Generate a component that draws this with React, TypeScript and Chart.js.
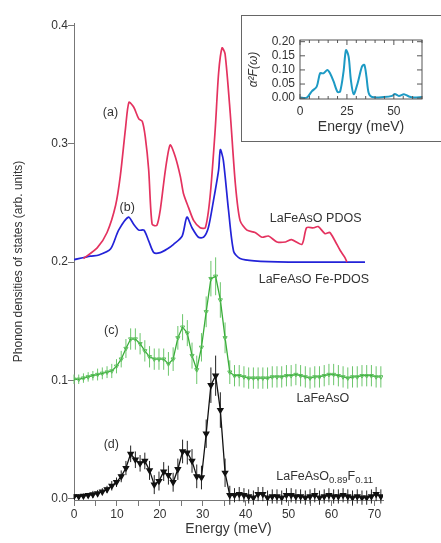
import { useEffect, useRef } from 'react';
import { Chart, registerables } from 'chart.js';

Chart.register(...registerables);

const FONT = '"Liberation Sans", Arial, Helvetica, sans-serif';

// (a) LaFeAsO PDOS, calculated
const PDOS_E = [2.2, 5.4, 7.7, 9.7, 10.8, 12.0, 12.8, 13.9, 15.1, 15.9, 16.6, 17.4, 18.2, 19.3, 20.1, 21.3, 22.4, 23.6, 24.8, 25.5, 26.7, 27.9, 29.4, 30.6, 31.7, 32.9, 33.7, 34.5, 35.2, 36.4, 37.6, 38.7, 40.3, 42.2, 43.8, 45.3, 47.3, 49.3, 50.7, 53.1, 54.2, 55.8, 56.9, 58.5, 59.6, 60.8, 62.0, 63.1, 63.6];
const PDOS_V = [0.203, 0.212, 0.225, 0.248, 0.273, 0.313, 0.335, 0.331, 0.321, 0.319, 0.306, 0.278, 0.232, 0.231, 0.244, 0.278, 0.299, 0.289, 0.272, 0.258, 0.246, 0.235, 0.229, 0.229, 0.255, 0.312, 0.36, 0.381, 0.376, 0.326, 0.266, 0.235, 0.227, 0.225, 0.221, 0.222, 0.217, 0.217, 0.219, 0.215, 0.229, 0.229, 0.23, 0.224, 0.225, 0.218, 0.21, 0.204, 0.2];

// (b) LaFeAsO Fe-PDOS, calculated
const FE_PDOS_E = [0, 3.8, 5.8, 8.5, 10.4, 12.7, 13.9, 15.1, 16.3, 17.4, 18.6, 20.1, 21.7, 23.2, 25.2, 26.3, 27.5, 29.0, 30.2, 31.3, 32.5, 33.7, 34.1, 34.8, 36.0, 37.2, 38.7, 42.0, 50.0, 60.0, 67.8];
const FE_PDOS_V = [0.202, 0.205, 0.206, 0.211, 0.227, 0.238, 0.232, 0.227, 0.227, 0.218, 0.208, 0.208, 0.211, 0.215, 0.222, 0.238, 0.229, 0.221, 0.221, 0.229, 0.252, 0.278, 0.295, 0.286, 0.244, 0.209, 0.203, 0.201, 0.2, 0.2, 0.2];

// measured spectra share one energy grid
const MEAS_E = [0, 1.1, 2.2, 3.3, 4.4, 5.5, 6.6, 7.7, 8.8, 9.9, 11, 12.1, 13.2, 14.3, 15.4, 16.5, 17.6, 18.7, 19.8, 20.9, 22, 23.1, 24.2, 25.3, 26.4, 27.5, 28.6, 29.7, 30.8, 31.9, 33, 34.1, 35.2, 36.3, 37.4, 38.5, 39.6, 40.7, 41.8, 42.9, 44, 45.1, 46.2, 47.3, 48.4, 49.5, 50.6, 51.7, 52.8, 53.9, 55, 56.1, 57.2, 58.3, 59.4, 60.5, 61.6, 62.7, 63.8, 64.9, 66, 67.1, 68.2, 69.3, 70.4, 71.5];

// (c) LaFeAsO
const LAFEASO_V = [0.101, 0.101, 0.102, 0.103, 0.104, 0.105, 0.106, 0.107, 0.108, 0.112, 0.118, 0.127, 0.135, 0.135, 0.131, 0.125, 0.12, 0.118, 0.118, 0.118, 0.114, 0.118, 0.136, 0.145, 0.14, 0.121, 0.109, 0.128, 0.158, 0.186, 0.188, 0.168, 0.136, 0.107, 0.104, 0.104, 0.103, 0.102, 0.102, 0.102, 0.102, 0.102, 0.103, 0.103, 0.103, 0.104, 0.104, 0.105, 0.104, 0.103, 0.102, 0.103, 0.103, 0.104, 0.105, 0.105, 0.104, 0.103, 0.102, 0.103, 0.103, 0.104, 0.104, 0.104, 0.103, 0.103];
const LAFEASO_ERR = [0.004, 0.004, 0.004, 0.004, 0.004, 0.005, 0.005, 0.005, 0.006, 0.006, 0.007, 0.008, 0.009, 0.009, 0.009, 0.009, 0.009, 0.009, 0.009, 0.009, 0.01, 0.01, 0.01, 0.011, 0.011, 0.011, 0.012, 0.012, 0.013, 0.015, 0.016, 0.015, 0.013, 0.01, 0.009, 0.009, 0.009, 0.009, 0.009, 0.009, 0.009, 0.009, 0.009, 0.009, 0.009, 0.009, 0.009, 0.009, 0.009, 0.009, 0.009, 0.009, 0.009, 0.009, 0.009, 0.009, 0.009, 0.009, 0.009, 0.009, 0.009, 0.009, 0.009, 0.009, 0.009, 0.009];

// (d) LaFeAsO0.89F0.11
const LAFEASOF_V = [0.002, 0.002, 0.0025, 0.003, 0.0037, 0.0045, 0.006, 0.008, 0.011, 0.014, 0.019, 0.026, 0.038, 0.033, 0.03, 0.032, 0.024, 0.012, 0.015, 0.023, 0.02, 0.014, 0.025, 0.04, 0.039, 0.032, 0.019, 0.018, 0.055, 0.096, 0.104, 0.075, 0.022, 0.003, 0.003, 0.004, 0.003, 0.002, 0.001, 0.004, 0.004, 0.001, 0.002, 0.002, 0.001, 0.003, 0.003, 0.002, 0.002, 0.001, 0.002, 0.003, 0.001, 0.002, 0.003, 0.002, 0.002, 0.003, 0.002, 0.001, 0.002, 0.001, 0.001, 0.002, 0.004, 0.002];
const LAFEASOF_ERR = [0.002, 0.002, 0.002, 0.002, 0.003, 0.003, 0.003, 0.003, 0.004, 0.004, 0.005, 0.006, 0.007, 0.007, 0.007, 0.007, 0.008, 0.008, 0.008, 0.008, 0.008, 0.008, 0.009, 0.01, 0.01, 0.01, 0.01, 0.01, 0.012, 0.015, 0.017, 0.015, 0.012, 0.008, 0.006, 0.006, 0.006, 0.006, 0.006, 0.006, 0.006, 0.006, 0.006, 0.006, 0.006, 0.006, 0.006, 0.006, 0.006, 0.006, 0.006, 0.006, 0.006, 0.006, 0.006, 0.006, 0.006, 0.006, 0.006, 0.006, 0.006, 0.006, 0.006, 0.006, 0.006, 0.006];

// inset: Eliashberg function
const ALPHA_E = [0, 3.6, 6.25, 8.9, 10.7, 12.5, 14.6, 16.0, 17.9, 20.0, 21.4, 23.2, 24.5, 25.9, 27.1, 28.6, 30.7, 33.0, 34.3, 35.4, 36.6, 38.4, 44.6, 49.1, 50.5, 52.7, 55.4, 58.0, 60.7, 65.0];
const ALPHA_V = [0.002, 0.002, 0.024, 0.041, 0.088, 0.088, 0.1, 0.088, 0.059, 0.022, 0.024, 0.094, 0.17, 0.147, 0.065, 0.014, 0.053, 0.112, 0.118, 0.076, 0.018, 0.004, 0.004, 0.008, 0.015, 0.008, 0.014, 0.006, 0.002, 0.004];

// curve labels, anchored in data coordinates
const CURVE_LABELS = [
  { e: 8.5, v: 0.326, parts: [{ t: '(a)' }] },
  { e: 12.4, v: 0.2457, parts: [{ t: '(b)' }] },
  { e: 56.3, v: 0.237, parts: [{ t: 'LaFeAsO PDOS' }] },
  { e: 55.9, v: 0.185, parts: [{ t: 'LaFeAsO Fe-PDOS' }] },
  { e: 8.7, v: 0.142, parts: [{ t: '(c)' }] },
  { e: 58.0, v: 0.085, parts: [{ t: 'LaFeAsO' }] },
  { e: 8.7, v: 0.046, parts: [{ t: '(d)' }] },
  { e: 58.4, v: 0.019, parts: [{ t: 'LaFeAsO' }, { t: '0.89', sub: true }, { t: 'F' }, { t: '0.11', sub: true }] },
];

const toPoints = (xs: number[], ys: number[]) => xs.map((x, i) => ({ x, y: ys[i] }));

const errorBarPlugin = {
  id: 'errorBars',
  beforeDatasetsDraw(chart: any) {
    const { ctx, scales: { x, y } } = chart;
    chart.data.datasets.forEach((ds: any) => {
      if (!ds.errors) return;
      ctx.save();
      ctx.strokeStyle = ds.errorColor;
      ctx.lineWidth = 1;
      ctx.beginPath();
      ds.data.forEach((pt: any, i: number) => {
        const err = ds.errors[i] ?? 0;
        const px = x.getPixelForValue(pt.x);
        ctx.moveTo(px, y.getPixelForValue(pt.y - err));
        ctx.lineTo(px, y.getPixelForValue(pt.y + err));
      });
      ctx.stroke();
      ctx.restore();
    });
  },
};

const curveLabelPlugin = {
  id: 'curveLabels',
  afterDatasetsDraw(chart: any) {
    const { ctx, scales: { x, y } } = chart;
    const main = `12.5px ${FONT}`;
    const sub = `9.5px ${FONT}`;
    ctx.save();
    ctx.fillStyle = '#333';
    ctx.textBaseline = 'middle';
    ctx.textAlign = 'left';
    CURVE_LABELS.forEach((lab) => {
      const widths = lab.parts.map((p: any) => {
        ctx.font = p.sub ? sub : main;
        return ctx.measureText(p.t).width;
      });
      const total = widths.reduce((a, b) => a + b, 0);
      let cx = x.getPixelForValue(lab.e) - total / 2;
      const cy = y.getPixelForValue(lab.v);
      lab.parts.forEach((p: any, i: number) => {
        ctx.font = p.sub ? sub : main;
        ctx.fillText(p.t, cx, p.sub ? cy + 4 : cy);
        cx += widths[i];
      });
    });
    ctx.restore();
  },
};

const insetFramePlugin = {
  id: 'insetFrame',
  afterDraw(chart: any) {
    const { ctx, chartArea: a, scales: { x, y } } = chart;
    ctx.save();
    ctx.strokeStyle = '#555';
    ctx.lineWidth = 1;
    ctx.strokeRect(a.left, a.top, a.right - a.left, a.bottom - a.top);
    ctx.beginPath();
    x.ticks.forEach((t: any) => {
      const px = x.getPixelForValue(t.value);
      const len = t.value % 25 === 0 ? 5 : 3;
      ctx.moveTo(px, a.top);
      ctx.lineTo(px, a.top + len);
      ctx.moveTo(px, a.bottom);
      ctx.lineTo(px, a.bottom - len);
    });
    y.ticks.forEach((t: any) => {
      const py = y.getPixelForValue(t.value);
      ctx.moveTo(a.left, py);
      ctx.lineTo(a.left + 5, py);
      ctx.moveTo(a.right, py);
      ctx.lineTo(a.right - 5, py);
    });
    ctx.stroke();
    ctx.restore();
  },
};

function MainChart() {
  const ref = useRef<HTMLCanvasElement>(null);

  useEffect(() => {
    if (!ref.current) return;
    const chart = new Chart(ref.current, {
      type: 'line',
      data: {
        datasets: [
          {
            label: 'LaFeAsO PDOS',
            data: toPoints(PDOS_E, PDOS_V),
            borderColor: '#e4325f',
            borderWidth: 1.7,
            pointRadius: 0,
            tension: 0.25,
          },
          {
            label: 'LaFeAsO Fe-PDOS',
            data: toPoints(FE_PDOS_E, FE_PDOS_V),
            borderColor: '#2323d8',
            borderWidth: 1.7,
            pointRadius: 0,
            tension: 0.25,
          },
          {
            label: 'LaFeAsO',
            data: toPoints(MEAS_E, LAFEASO_V),
            borderColor: '#3aad3a',
            borderWidth: 1.3,
            pointRadius: 2.4,
            pointStyle: 'triangle',
            rotation: 180,
            pointBorderColor: '#5cbf5c',
            pointBackgroundColor: 'rgba(255,255,255,0)',
            pointBorderWidth: 1,
            tension: 0,
            errors: LAFEASO_ERR,
            errorColor: '#6cc66c',
          } as any,
          {
            label: 'LaFeAsO0.89F0.11',
            data: toPoints(MEAS_E, LAFEASOF_V),
            borderColor: '#111',
            borderWidth: 1.3,
            pointRadius: 3,
            pointStyle: 'triangle',
            rotation: 180,
            pointBorderColor: '#111',
            pointBackgroundColor: '#111',
            tension: 0,
            errors: LAFEASOF_ERR,
            errorColor: '#222',
          } as any,
        ],
      },
      options: {
        responsive: false,
        animation: false,
        layout: { padding: { left: 0, top: 23, right: 58, bottom: 0 } },
        plugins: { legend: { display: false }, tooltip: { enabled: false } },
        scales: {
          x: {
            type: 'linear',
            min: 0,
            max: 72,
            afterFit: (s: any) => { s.height = 43; },
            border: { display: true, color: '#777', width: 1 },
            grid: { display: true, drawOnChartArea: false, drawTicks: true, tickLength: 6, color: '#777' },
            ticks: {
              stepSize: 5,
              autoSkip: false,
              includeBounds: false,
              maxRotation: 0,
              padding: 1,
              color: '#333',
              font: { family: FONT, size: 12 },
              callback: (v: any) => (Number(v) % 10 === 0 ? String(v) : ''),
            },
            title: {
              display: true,
              text: 'Energy (meV)',
              color: '#333',
              font: { family: FONT, size: 14 },
              padding: { top: 0, bottom: 5 },
            },
          },
          y: {
            type: 'linear',
            min: -0.001,
            max: 0.402,
            afterFit: (s: any) => { s.width = 74; },
            border: { display: true, color: '#777', width: 1 },
            grid: { display: true, drawOnChartArea: false, drawTicks: true, tickLength: 6, color: '#777' },
            ticks: {
              stepSize: 0.1,
              autoSkip: false,
              includeBounds: false,
              padding: 0,
              color: '#333',
              font: { family: FONT, size: 12 },
              callback: (v: any) => Number(v).toFixed(1),
            },
            title: {
              display: true,
              text: 'Phonon densities of states (arb. units)',
              color: '#333',
              font: { family: FONT, size: 12 },
              padding: { top: 11, bottom: 0 },
            },
          },
        },
      },
      plugins: [errorBarPlugin, curveLabelPlugin],
    });
    return () => chart.destroy();
  }, []);

  return <canvas ref={ref} width={441} height={543} style={{ position: 'absolute', left: 0, top: 0 }} />;
}

function InsetChart() {
  const ref = useRef<HTMLCanvasElement>(null);

  useEffect(() => {
    if (!ref.current) return;
    const chart = new Chart(ref.current, {
      type: 'line',
      data: {
        datasets: [
          {
            label: 'α²F(ω)',
            data: toPoints(ALPHA_E, ALPHA_V),
            borderColor: '#1d9ac4',
            borderWidth: 2,
            pointRadius: 0,
            tension: 0.3,
          },
        ],
      },
      options: {
        responsive: false,
        animation: false,
        layout: { padding: { left: 0, top: 24, right: 19, bottom: 0 } },
        plugins: { legend: { display: false }, tooltip: { enabled: false } },
        scales: {
          x: {
            type: 'linear',
            min: 0,
            max: 65,
            afterFit: (s: any) => { s.height = 41; },
            border: { display: false },
            grid: { display: false, drawTicks: false },
            ticks: {
              stepSize: 5,
              autoSkip: false,
              includeBounds: false,
              maxRotation: 0,
              padding: 5,
              color: '#333',
              font: { family: FONT, size: 12 },
              callback: (v: any) => (Number(v) % 25 === 0 ? String(v) : ''),
            },
            title: {
              display: true,
              text: 'Energy (meV)',
              color: '#333',
              font: { family: FONT, size: 14 },
              padding: { top: 0, bottom: 4.6 },
            },
          },
          y: {
            type: 'linear',
            min: -0.003,
            max: 0.206,
            afterFit: (s: any) => { s.width = 57; },
            border: { display: false },
            grid: { display: false, drawTicks: false },
            ticks: {
              stepSize: 0.05,
              autoSkip: false,
              includeBounds: false,
              padding: 5,
              color: '#333',
              font: { family: FONT, size: 12 },
              callback: (v: any) => Number(v).toFixed(2),
            },
            title: {
              display: true,
              text: 'α²F(ω)',
              color: '#333',
              font: { family: FONT, size: 12, style: 'italic' },
              padding: { top: 3, bottom: 0 },
            },
          },
        },
      },
      plugins: [insetFramePlugin],
    });
    return () => chart.destroy();
  }, []);

  return (
    <>
      <div
        style={{
          position: 'absolute',
          left: 241,
          top: 15,
          width: 260,
          height: 125,
          border: '1px solid #666',
          background: '#fff',
        }}
      />
      <canvas ref={ref} width={198} height={124} style={{ position: 'absolute', left: 243, top: 16 }} />
    </>
  );
}

export default function App() {
  return (
    <div
      style={{
        position: 'absolute',
        left: 0,
        top: 0,
        width: 441,
        height: 543,
        overflow: 'hidden',
        background: '#fff',
      }}
    >
      <MainChart />
      <InsetChart />
    </div>
  );
}
